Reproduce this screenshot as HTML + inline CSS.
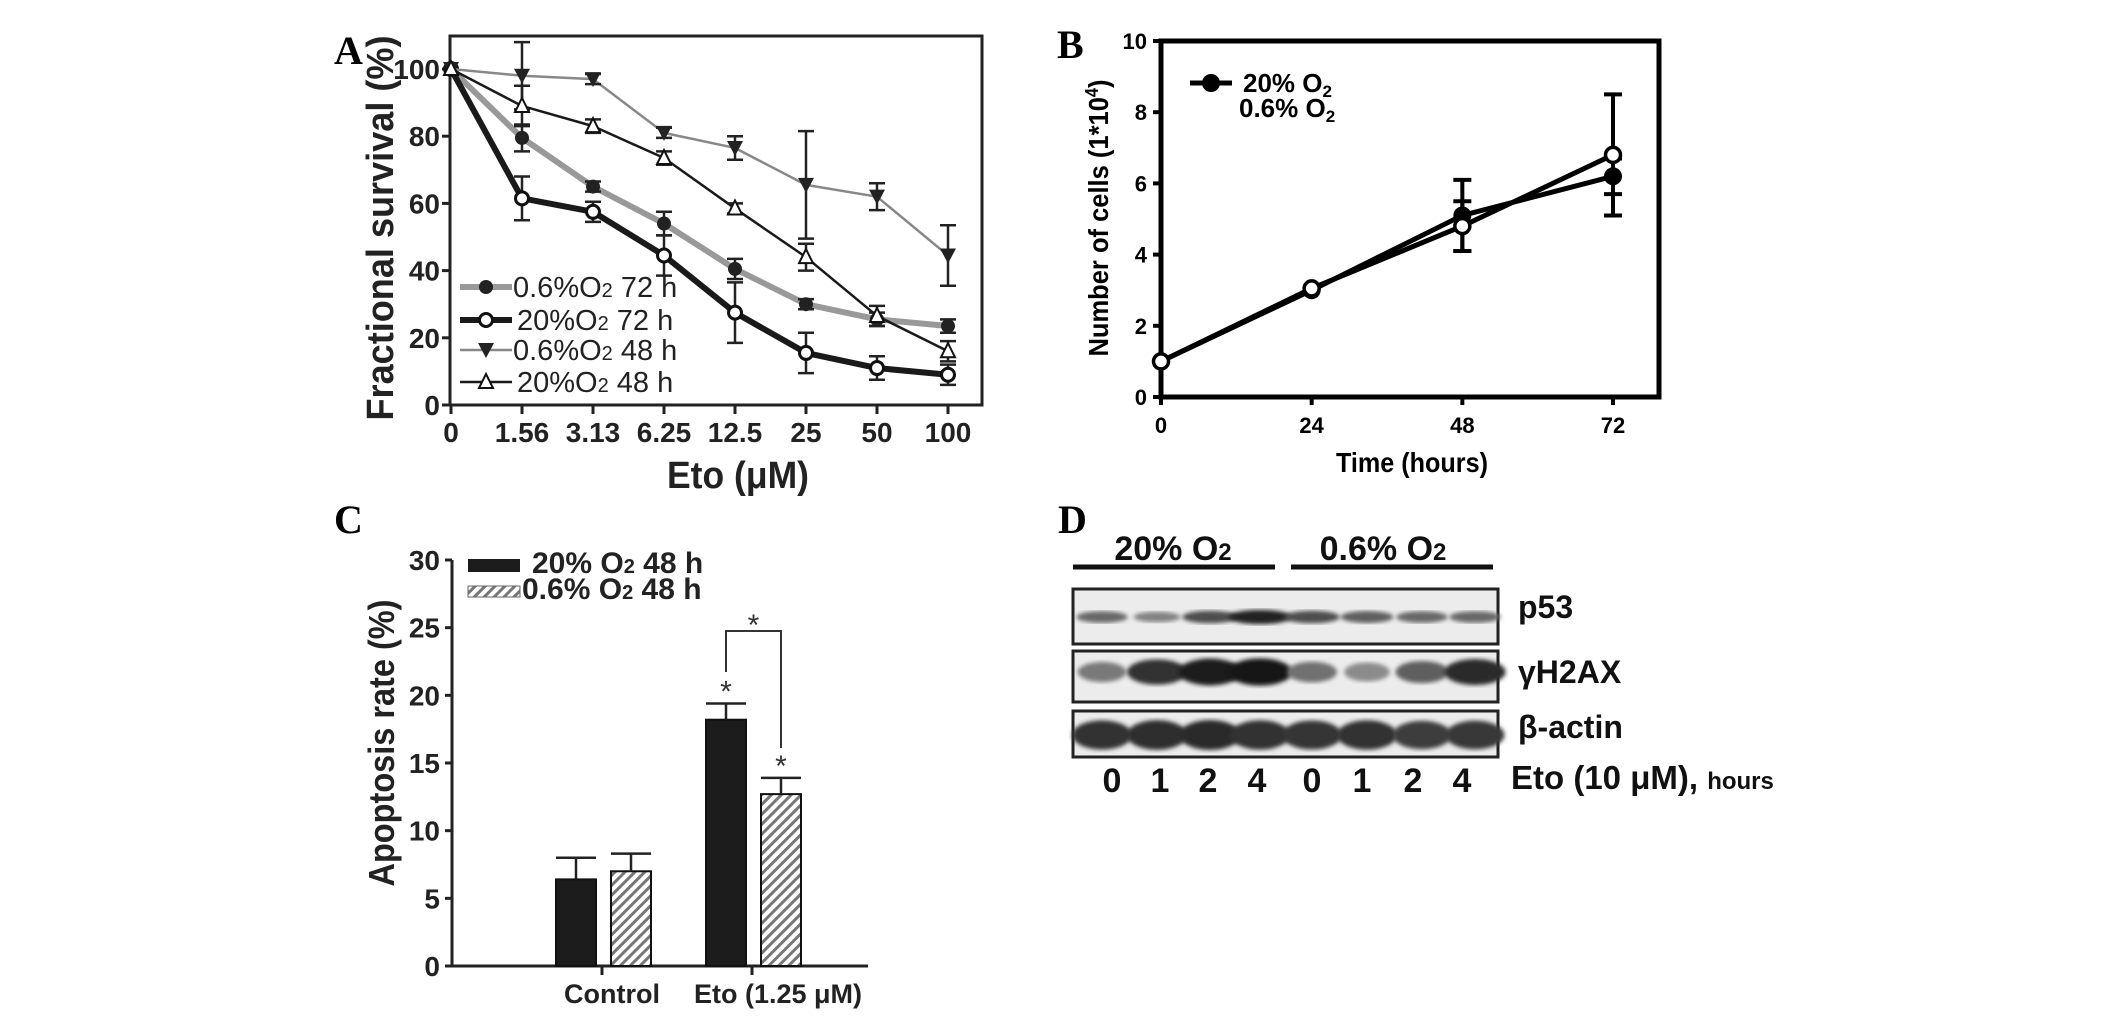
<!DOCTYPE html>
<html><head><meta charset="utf-8"><style>
html,body{margin:0;padding:0;background:#fff;}
svg{display:block;font-family:"Liberation Sans",Arial,sans-serif;}
</style></head><body>
<svg id="fig" width="2126" height="1034" viewBox="0 0 2126 1034" xmlns="http://www.w3.org/2000/svg">
<defs>
<pattern id="hatch" patternUnits="userSpaceOnUse" width="7" height="7" patternTransform="rotate(45)">
<rect width="7" height="7" fill="#fff"/><rect width="3" height="7" fill="#777"/>
</pattern>
<filter id="blur2"><feGaussianBlur stdDeviation="2"/></filter>
</defs>
<g id="pA"></g>
<g id="pB"></g>
<g id="pC"></g>
<g id="pD"></g>
</svg>
<script>
// ---- Panel A data
const aCats = ["0","1.56","3.13","6.25","12.5","25","50","100"];
const aYTicks = [0,20,40,60,80,100];
const a_o06_72 = [100,79.5,65,54,40.5,30,25.5,23.5];
const a_o06_72e = [0,4,1.5,3.5,3,1.5,2,2];
const a_o20_72 = [100,61.5,57.5,44.5,27.5,15.5,11,9];
const a_o20_72e = [0,6.5,3,6,9,6,3.5,3];
const a_o06_48 = [100,98,97,81,76.5,65.5,62,44.5];
const a_o06_48e = [0,10,1.5,1.5,3.5,16,4,9];
const a_o20_48 = [100,89,83,73.5,58.5,44,26.5,16];
const a_o20_48e = [0,6,2,2,1.5,4,3,3];
// ---- Panel B data
const bX = [0,24,48,72];
const bYTicks = [0,2,4,6,8,10];
const b_o20 = [1,3.0,5.1,6.2];
const b_o20e = [0,0.1,1.0,0.5];
const b_o06 = [1,3.05,4.8,6.8];
const b_o06e = [0,0.1,0.7,1.7];
// ---- Panel C data
const cCats = ["Control","Eto (1.25 \u03bcM)"];
const cYTicks = [0,5,10,15,20,25,30];
const c_o20 = [6.4,18.2];
const c_o20e = [1.6,1.2];
const c_o06 = [7.0,12.7];
const c_o06e = [1.3,1.2];
// ---- Panel D data (band intensities 0..1)
const dLanes = ["0","1","2","4","0","1","2","4"];
const d_p53 = [0.55,0.4,0.7,0.95,0.7,0.6,0.55,0.55];
const d_h2ax = [0.45,0.85,0.97,1.0,0.5,0.35,0.6,0.9];
const d_actin = [0.85,0.88,0.9,0.86,0.84,0.86,0.8,0.82];

const NS="http://www.w3.org/2000/svg";
function mk(parent,tag,attrs,text){const e=document.createElementNS(NS,tag);for(const k in attrs)e.setAttribute(k,attrs[k]);if(text!==undefined)e.textContent=text;parent.appendChild(e);return e;}

// ================= PANEL A
(function(){
const g=document.getElementById('pA');
const L=450,R=982,T=36,B=405;
const xA=i=>451+i*71;
const yA=v=>B-(v/100)*(B-69);
let t=mk(g,'text',{x:334,y:64,'font-family':'Liberation Serif,serif','font-weight':'bold','font-size':40});t.textContent='A';

let box=mk(g,'rect',{x:L,y:T,width:R-L,height:B-T,fill:'none',stroke:'#222','stroke-width':3});

aYTicks.forEach(v=>{const y=yA(v);
 let l=mk(g,'line',{x1:L-8,x2:L,y1:y,y2:y,stroke:'#222','stroke-width':3});
 
 let tx=mk(g,'text',{x:L-10,y:y+10,'text-anchor':'end','font-size':28,'font-weight':'bold',fill:'#222'},String(v));
 });
aCats.forEach((c,i)=>{const x=xA(i);
 let l=mk(g,'line',{x1:x,x2:x,y1:B,y2:B+9,stroke:'#222','stroke-width':3});
 
 let tx=mk(g,'text',{x:x,y:442,'text-anchor':'middle','font-size':28,'font-weight':'bold',fill:'#222'},c);
 });
let yt=mk(g,'text',{x:0,y:0,transform:'translate(393,228) rotate(-90)','text-anchor':'middle','font-size':38,'font-weight':'bold',fill:'#222',textLength:385,lengthAdjust:'spacingAndGlyphs'},'Fractional survival (%)');

let xt=mk(g,'text',{x:738,y:488,'text-anchor':'middle','font-size':38,'font-weight':'bold',fill:'#222',textLength:142,lengthAdjust:'spacingAndGlyphs'},'Eto (\u03bcM)');


function marker(gg,type,x,y){
 if(type==='fc') return mk(gg,'circle',{cx:x,cy:y,r:7,fill:'#222'});
 if(type==='oc') return mk(gg,'circle',{cx:x,cy:y,r:6.5,fill:'#fff',stroke:'#111','stroke-width':3});
 if(type==='dt') return mk(gg,'path',{d:`M${x-8},${y-7}L${x+8},${y-7}L${x},${y+8}Z`,fill:'#222'});
 if(type==='ut') return mk(gg,'path',{d:`M${x-7},${y+6}L${x+7},${y+6}L${x},${y-8}Z`,fill:'#fff',stroke:'#111','stroke-width':2});
}
const series=[
 {name:'series-06-72h',v:a_o06_72,e:a_o06_72e,col:'#999',w:6,m:'fc'},
 {name:'series-20-72h',v:a_o20_72,e:a_o20_72e,col:'#1a1a1a',w:6,m:'oc'},
 {name:'series-06-48h',v:a_o06_48,e:a_o06_48e,col:'#888',w:2.5,m:'dt'},
 {name:'series-20-48h',v:a_o20_48,e:a_o20_48e,col:'#1a1a1a',w:2.5,m:'ut'}];
series.forEach(s=>{
 const sg=mk(g,'g',{});
 const pts=s.v.map((v,i)=>xA(i)+','+yA(v)).join(' ');
 let pl=mk(sg,'polyline',{points:pts,fill:'none',stroke:s.col,'stroke-width':s.w,'stroke-linejoin':'round'});
 
 s.v.forEach((v,i)=>{ if(s.e[i]>0){const x=xA(i),y1=yA(v+s.e[i]),y2=yA(v-s.e[i]);
   let eb=mk(sg,'path',{d:`M${x},${y1}V${y2}M${x-8},${y1}H${x+8}M${x-8},${y2}H${x+8}`,stroke:'#222','stroke-width':2.5,fill:'none'});
   }});
 s.v.forEach((v,i)=>{let m=marker(sg,s.m,xA(i),yA(v));});
});
// legend
const leg=[['0.6%O','2',' 72 h',series[0],287],['20%O','2',' 72 h',series[1],320],['0.6%O','2',' 48 h',series[2],350],['20%O','2',' 48 h',series[3],382]];
leg.forEach(r=>{const lg=mk(g,'g',{});
 mk(lg,'line',{x1:460,x2:512,y1:r[4],y2:r[4],stroke:r[3].col,'stroke-width':r[3].w});
 marker(lg,r[3].m,486,r[4]);
 const tx=mk(lg,'text',{x:r[3].m==='oc'||r[3].m==='ut'?517:513,y:r[4]+10,'font-size':29,fill:'#222'});
 mk(tx,'tspan',{},r[0]);mk(tx,'tspan',{'font-size':20},r[1]);mk(tx,'tspan',{},r[2]);});
})();

// ================= PANEL B
(function(){
const g=document.getElementById('pB');
const L=1161,R=1659,T=41,B=397;
const xB=v=>L+(v/72)*(1613-L);
const yB=v=>B-(v/10)*(B-T);
let t=mk(g,'text',{x:1057,y:58,'font-family':'Liberation Serif,serif','font-weight':'bold','font-size':40},'B');

let box=mk(g,'rect',{x:L,y:T,width:R-L,height:B-T,fill:'none',stroke:'#000','stroke-width':5});

bYTicks.forEach(v=>{const y=yB(v);
 let l=mk(g,'line',{x1:L-8,x2:L,y1:y,y2:y,stroke:'#000','stroke-width':4});
 let tx=mk(g,'text',{x:L-14,y:y+8,'text-anchor':'end','font-size':22,'font-weight':'bold'},String(v));});
bX.forEach(v=>{const x=xB(v);
 let l=mk(g,'line',{x1:x,x2:x,y1:B,y2:B+8,stroke:'#000','stroke-width':4});
 let tx=mk(g,'text',{x:x,y:433,'text-anchor':'middle','font-size':22,'font-weight':'bold'},String(v));});
let yt=mk(g,'text',{x:0,y:0,transform:'translate(1108,218) rotate(-90)','text-anchor':'middle','font-size':28,'font-weight':'bold',textLength:277,lengthAdjust:'spacingAndGlyphs'});

mk(yt,'tspan',{},'Number of cells (1*10');mk(yt,'tspan',{'font-size':18,dy:-10},'4');mk(yt,'tspan',{dy:10},')');
let xt=mk(g,'text',{x:1412,y:472,'text-anchor':'middle','font-size':28,'font-weight':'bold',textLength:152,lengthAdjust:'spacingAndGlyphs'},'Time (hours)');

[[b_o20,b_o20e,'fill','series-20pct'],[b_o06,b_o06e,'open','series-06pct']].forEach(s=>{
 const sg=mk(g,'g',{});
 let pl=mk(sg,'polyline',{points:s[0].map((v,i)=>xB(bX[i])+','+yB(v)).join(' '),fill:'none',stroke:'#000','stroke-width':5});
 
 s[0].forEach((v,i)=>{if(s[1][i]>0.15){const x=xB(bX[i]),y1=yB(v+s[1][i]),y2=yB(v-s[1][i]);
  let eb=mk(sg,'path',{d:`M${x},${y1}V${y2}M${x-9},${y1}H${x+9}M${x-9},${y2}H${x+9}`,stroke:'#000','stroke-width':4,fill:'none'});
  }});
 s[0].forEach((v,i)=>{let c=mk(sg,'circle',s[2]==='fill'?{cx:xB(bX[i]),cy:yB(v),r:9,fill:'#000'}:{cx:xB(bX[i]),cy:yB(v),r:7.5,fill:'#fff',stroke:'#000','stroke-width':3.5});
  });
});
const lg=mk(g,'g',{});
mk(lg,'line',{x1:1190,x2:1232,y1:83,y2:83,stroke:'#000','stroke-width':5});
mk(lg,'circle',{cx:1211,cy:83,r:9,fill:'#000'});
let l1=mk(lg,'text',{x:1243,y:92,'font-size':26,'font-weight':'bold'});mk(l1,'tspan',{},'20% O');mk(l1,'tspan',{'font-size':17,dy:5},'2');
let l2=mk(lg,'text',{x:1239,y:117,'font-size':26,'font-weight':'bold'});mk(l2,'tspan',{},'0.6% O');mk(l2,'tspan',{'font-size':17,dy:5},'2');
})();

// ================= PANEL C
(function(){
const g=document.getElementById('pC');
const L=452,B=966,T=560;
const yC=v=>B-(v/30)*(B-T);
const groupX=[602,752];
let t=mk(g,'text',{x:334,y:533,'font-family':'Liberation Serif,serif','font-weight':'bold','font-size':40},'C');

let ya=mk(g,'line',{x1:L,x2:L,y1:T,y2:B,stroke:'#222','stroke-width':3});
let xa=mk(g,'line',{x1:445,x2:868,y1:B,y2:B,stroke:'#222','stroke-width':3});
cYTicks.forEach(v=>{const y=yC(v);
 let l=mk(g,'line',{x1:L-7,x2:L,y1:y,y2:y,stroke:'#222','stroke-width':3});
 let tx=mk(g,'text',{x:L-12,y:y+10,'text-anchor':'end','font-size':28,'font-weight':'bold',fill:'#222'},String(v));});
cCats.forEach((c,i)=>{
 let l=mk(g,'line',{x1:groupX[i],x2:groupX[i],y1:B,y2:B+9,stroke:'#222','stroke-width':3});
 let tx=mk(g,'text',{x:groupX[i]+(i?26:10),y:1003,'text-anchor':'middle','font-size':27,'font-weight':'bold',fill:'#222'},c);});
let yt=mk(g,'text',{x:0,y:0,transform:'translate(394,743) rotate(-90)','text-anchor':'middle','font-size':36,'font-weight':'bold',fill:'#222',textLength:287,lengthAdjust:'spacingAndGlyphs'},'Apoptosis rate (%)');

const bw=40;
function bar(x,v,e,fill,name){
 const bg=mk(g,'g',{});
 let r=mk(bg,'rect',{x:x,y:yC(v),width:bw,height:B-yC(v),fill:fill,stroke:'#111','stroke-width':2});
 
 let eb=mk(bg,'path',{d:`M${x+bw/2},${yC(v)}V${yC(v+e)}M${x},${yC(v+e)}H${x+bw}`,stroke:'#222','stroke-width':2.5,fill:'none'});
 }
cCats.forEach((c,i)=>{
 bar(groupX[i]-46,c_o20[i],c_o20e[i],'#1c1c1c','bar-20pct-'+i);
 bar(groupX[i]+9,c_o06[i],c_o06e[i],'url(#hatch)','bar-06pct-'+i);});
// significance
const x1=groupX[1]-26,x2=groupX[1]+29;
let st1=mk(g,'text',{x:x1,y:yC(c_o20[1]+c_o20e[1])-2,'text-anchor':'middle','font-size':30,fill:'#333'},'*');
let st2=mk(g,'text',{x:x2,y:yC(c_o06[1]+c_o06e[1])-2,'text-anchor':'middle','font-size':30,fill:'#333'},'*');
let br=mk(g,'path',{d:`M${x1},672V631H${x2}V748`,stroke:'#333','stroke-width':2,fill:'none'});
let st3=mk(g,'text',{x:(x1+x2)/2,y:635,'text-anchor':'middle','font-size':30,fill:'#333'},'*');
const lg=mk(g,'g',{});
mk(lg,'rect',{x:468,y:559,width:52,height:13,fill:'#1c1c1c'});
let t1=mk(lg,'text',{x:532,y:573,'font-size':30,'font-weight':'bold',fill:'#222'});mk(t1,'tspan',{},'20% O');mk(t1,'tspan',{'font-size':20},'2');mk(t1,'tspan',{},' 48 h');
mk(lg,'rect',{x:468,y:586,width:52,height:11,fill:'url(#hatch)',stroke:'#666','stroke-width':1});
let t2=mk(lg,'text',{x:522,y:599,'font-size':30,'font-weight':'bold',fill:'#222'});mk(t2,'tspan',{},'0.6% O');mk(t2,'tspan',{'font-size':20},'2');mk(t2,'tspan',{},' 48 h');
})();

// ================= PANEL D
(function(){
const g=document.getElementById('pD');
let t=mk(g,'text',{x:1058,y:533,'font-family':'Liberation Serif,serif','font-weight':'bold','font-size':40},'D');

[[1073,1275,1173,'20% O'],[1291,1493,1383,'0.6% O']].forEach(h=>{
 const hg=mk(g,'g',{});
 mk(hg,'line',{x1:h[0],x2:h[1],y1:567,y2:567,stroke:'#111','stroke-width':5});
 const tx=mk(hg,'text',{x:h[2],y:560,'text-anchor':'middle','font-size':34,'font-weight':'bold',fill:'#111'});
 mk(tx,'tspan',{},h[3]);mk(tx,'tspan',{'font-size':24},'2');});
const laneX=[1102,1157,1210,1260,1312,1367,1422,1475];
const rows=[['p53',589,644,617,d_p53,7,'blot-p53',618],['\u03b3H2AX',651,702,672,d_h2ax,13,'blot-h2ax',683],['\u03b2-actin',711,757,735,d_actin,15,'blot-actin',738]];
rows.forEach(r=>{
 const rg=mk(g,'g',{});
 mk(rg,'rect',{x:1073,y:r[1],width:425,height:r[2]-r[1],fill:'#ececec',stroke:'#222','stroke-width':3});
 r[4].forEach((v,i)=>{
  const c=Math.round(200-v*175);
  let e=mk(rg,'ellipse',{cx:laneX[i],cy:r[3],rx:18+v*14,ry:r[5]*(0.55+v*0.5),fill:`rgb(${c},${c},${c})`,filter:'url(#blur2)'});
  });
 let lt=mk(g,'text',{x:1518,y:r[7],'font-size':32,'font-weight':'bold',fill:'#111'},r[0]);
 
});
const numX=[1112,1160,1208,1257,1312,1362,1413,1462];
dLanes.forEach((l,i)=>{let tx=mk(g,'text',{x:numX[i],y:792,'text-anchor':'middle','font-size':34,'font-weight':'bold',fill:'#111'},l);
 });
let et=mk(g,'text',{x:1511,y:789,'font-size':33,'font-weight':'bold',fill:'#111'});

mk(et,'tspan',{},'Eto (10 \u03bcM), ');mk(et,'tspan',{'font-size':24},'hours');
})();
</script>
</body></html>
